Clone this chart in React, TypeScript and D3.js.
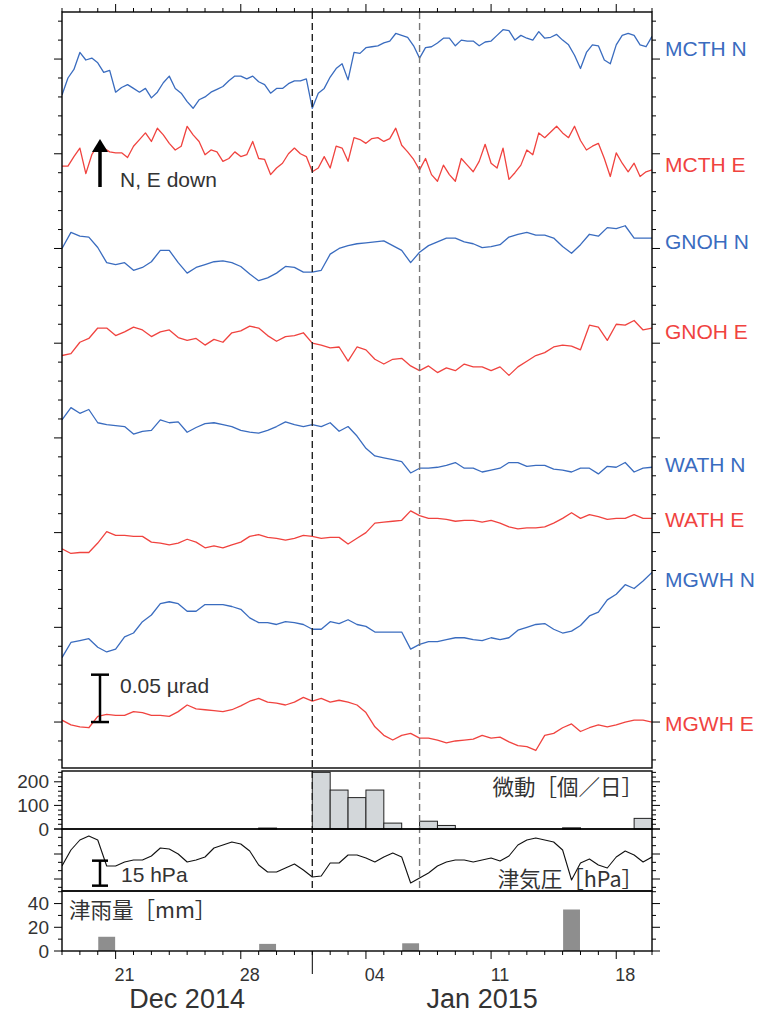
import React from "react";
import * as d3 from "d3";

const HOUR = 3600000;
const START = Date.UTC(2014, 11, 18);
const END = Date.UTC(2015, 0, 20);

// tilt traces: values in nrad relative to each trace's offset (µrad)
const traceNames = ["MCTH N", "MCTH E", "GNOH N", "GNOH E", "WATH N", "WATH E", "MGWH N", "MGWH E"];
const traceOffsets = [0.8, 0.7, 0.6, 0.5, 0.4, 0.3, 0.2, 0.1];
const traceStepHours = [8, 8, 12, 12, 12, 12, 12, 12];

const mcthN = [
  -38, -20, -11, 7, -1, 1, -4, -14, -12, -35,
  -30, -27, -31, -35, -31, -41, -35, -25, -18, -31,
  -36, -45, -52, -43, -40, -35, -32, -29, -23, -18,
  -18, -21, -18, -24, -27, -36, -31, -31, -26, -23,
  -23, -21, -52, -36, -31, -19, -10, -5, -22, 7,
  6, 12, 13, 14, 17, 19, 27, 25, 23, 14,
  1, 12, 13, 17, 22, 22, 14, 20, 19, 19,
  14, 18, 19, 25, 31, 30, 20, 25, 22, 20,
  29, 22, 23, 26, 20, 15, 4, -10, 7, 15,
  14, -1, -5, 15, 25, 27, 25, 15, 13, 24,
];
const mcthE = [
  -13, -13, -3, 6, -21, -1, 9, 6, 2, 1,
  1, -4, 8, 15, 22, 13, 27, 20, 11, 4,
  8, 29, 20, 13, -1, 4, 2, -8, -5, 2,
  -3, -1, 13, -5, -6, -22, -15, -10, 0, 6,
  0, -3, -19, -15, -3, -15, 8, 6, -8, 17,
  15, 11, 16, 17, 13, 16, 27, 9, 2, -6,
  -17, -5, -22, -29, -12, -22, -29, -5, -12, -19,
  -8, 10, -10, -15, 6, -27, -20, -12, 4, -1,
  22, 17, 23, 29, 22, 17, 29, 14, 4, 8,
  11, -5, -24, 1, -10, -19, -10, -24, -19, -17,
];
const gnohN = [
  0, 17, 13, 12, 1, -15, -17, -15, -23, -20,
  -14, -2, -2, -15, -26, -20, -17, -14, -13, -15,
  -19, -27, -34, -31, -26, -19, -20, -25, -25, -23,
  -6, 0, 3, 5, 6, 7, 8, 3, -2, -15,
  -4, 3, 7, 11, 11, 7, 5, 1, 2, 4,
  12, 15, 17, 14, 14, 11, 2, -5, 4, 15,
  13, 22, 21, 24, 11, 11, 11,
];
const gnohE = [
  -13, -11, 1, 5, 16, 16, 8, 12, 17, 14,
  7, 12, 14, 6, 3, 5, -2, 4, 1, 11,
  13, 18, 16, 8, 2, 7, 8, 11, 0, -2,
  -5, -4, -19, -4, -7, -17, -22, -17, -16, -24,
  -29, -24, -31, -26, -29, -22, -25, -25, -29, -25,
  -34, -25, -19, -13, -10, -4, -2, -3, -7, 19,
  17, 3, 20, 19, 24, 14, 16,
];
const wathN = [
  19, 32, 26, 30, 16, 14, 13, 12, 4, 7,
  8, 19, 16, 17, 6, 11, 15, 16, 14, 12,
  8, 6, 5, 8, 12, 17, 14, 12, 14, 12,
  16, 7, 12, 2, -11, -19, -21, -23, -25, -37,
  -32, -32, -31, -29, -26, -32, -32, -36, -34, -32,
  -26, -26, -30, -29, -29, -33, -34, -36, -32, -32,
  -38, -30, -31, -26, -36, -32, -31,
];
const wathE = [
  -17, -22, -21, -21, -11, 1, -3, -3, -4, -4,
  -10, -11, -13, -11, -7, -10, -16, -14, -16, -13,
  -10, -4, -2, -5, -6, -8, -6, -3, -4, -6,
  -5, -5, -12, -6, 0, 10, 11, 12, 13, 23,
  18, 15, 15, 14, 12, 13, 13, 11, 13, 10,
  6, 4, 5, 5, 6, 10, 15, 21, 15, 19,
  17, 14, 15, 15, 19, 15, 15,
];
const mgwhN = [
  -32, -16, -14, -12, -21, -26, -23, -10, -6, 6,
  13, 25, 27, 25, 17, 17, 24, 24, 24, 22,
  19, 10, 5, 5, 3, 6, 5, 3, -2, -2,
  6, 4, 8, 3, 1, -5, -5, -5, -5, -23,
  -18, -15, -15, -13, -11, -11, -13, -14, -11, -13,
  -11, -3, 0, 3, 4, -2, -6, -4, 2, 12,
  16, 29, 35, 45, 41, 49, 58,
];
const mgwhE = [
  2, -3, -5, -6, 6, 8, 7, 7, 11, 10,
  7, 7, 6, 11, 18, 14, 13, 12, 11, 13,
  17, 22, 25, 21, 20, 18, 21, 26, 22, 25,
  21, 23, 21, 18, 10, -5, -14, -19, -14, -12,
  -17, -17, -19, -22, -20, -19, -18, -14, -17, -16,
  -21, -25, -26, -30, -14, -12, -6, -2, -10, -6,
  -3, -5, -3, 0, 2, 2, 0,
];
const traces = [mcthN, mcthE, gnohN, gnohE, wathN, wathE, mgwhN, mgwhE];

// tremor counts per day
const tremorDates = ["2014-12-29", "2015-01-01", "2015-01-02", "2015-01-03", "2015-01-04", "2015-01-05", "2015-01-07", "2015-01-08", "2015-01-15", "2015-01-19"];
const tremorCounts = [4, 240, 165, 133, 165, 25, 33, 15, 5, 45];

// Tsu air pressure (hPa), every 12 h from Dec 18
const pressureStepHours = 12;
const pressure = [
  1007.8, 1017.4, 1023.4, 1025.8, 1023.4, 1007.8, 1007.8, 1010.2, 1011.4, 1011.4,
  1013.8, 1018.6, 1018.0, 1015.0, 1010.2, 1011.4, 1013.2, 1018.6, 1020.4, 1022.2,
  1021.0, 1016.8, 1008.4, 1004.2, 1004.2, 1006.6, 1009.0, 1005.4, 1001.2, 1001.8,
  1009.6, 1009.6, 1014.4, 1014.4, 1012.6, 1010.2, 1013.2, 1015.6, 1013.2, 997.6,
  1000.6, 1003.6, 1007.8, 1010.2, 1011.4, 1011.4, 1010.2, 1011.4, 1012.6, 1010.8,
  1013.8, 1020.4, 1023.4, 1024.6, 1023.4, 1022.2, 1017.4, 999.4, 1009.6, 1012.0,
  1008.4, 1006.6, 1013.2, 1016.8, 1014.4, 1010.2, 1013.2,
];

// Tsu rainfall (mm/day)
const rainDates = ["2014-12-20", "2014-12-29", "2015-01-06", "2015-01-15"];
const rainAmounts = [12, 6, 6.5, 35];

// event markers
const eventDates = ["2015-01-01", "2015-01-07"];

// axis labels
const dayLabelDates = ["2014-12-21", "2014-12-28", "2015-01-04", "2015-01-11", "2015-01-18"];
const dayLabels = ["21", "28", "04", "11", "18"];
const monthLabels = ["Dec 2014", "Jan 2015"];
const monthStarts = ["2014-12-01", "2015-01-01"];
const tremorTicks = [0, 100, 200];
const rainTicks = [0, 20, 40];

const parse = (s: string) => new Date(s + "T00:00:00Z");

const SANS = "'Liberation Sans', Arial, Helvetica, sans-serif";
const CJK = "'Noto Sans CJK JP', 'Noto Sans CJK SC', sans-serif";
const TXT = "#333";
const BLUE = "#3a6cbf";
const RED = "#f0433f";

export default function App() {
  const L = 62, R = 652;
  const mainTop = 12, mainBot = 768;
  const tremTop = 770, tremBot = 829;
  const presTop = 829, presBot = 891;
  const rainTop = 891, rainBot = 951;

  const x = d3.scaleUtc().domain([new Date(START), new Date(END)]).range([L, R]);
  const yMain = d3.scaleLinear().domain([0.05, 0.85]).range([769.4, 11.7]);
  const yTrem = d3.scaleLinear().domain([0, 250]).range([tremBot, tremTop]);
  const yPres = d3.scaleLinear().domain([992.8, 1030]).range([presBot, presTop]);
  const yRain = d3.scaleLinear().domain([0, 50.6]).range([rainBot, rainTop]);

  const line = d3.line<[Date, number]>().x((d) => x(d[0])).y((d) => yMain(d[1]));
  const tracePaths = traces.map((vals, i) =>
    line(vals.map((v, k) => [new Date(START + k * traceStepHours[i] * HOUR), traceOffsets[i] + v / 1000]))
  );
  const presLine = d3.line<[Date, number]>().x((d) => x(d[0])).y((d) => yPres(d[1]));
  const presPath = presLine(pressure.map((p, k) => [new Date(START + k * pressureStepHours * HOUR), p]));

  const labelY = [48, 164, 241, 331, 464, 519, 579, 723];

  const days = d3.utcDay.range(new Date(START), new Date(END + 1));
  const mainTicks = d3.range(3, 43).map((i) => ({ v: i * 0.02, major: i % 5 === 0 }));
  const tremMinor = d3.range(0, 250, 20);
  const rainMinor = d3.range(0, 51, 10);
  const presMinor = d3.range(995, 1031, 5);

  const dayW = x(new Date(START + 24 * HOUR)) - x(new Date(START));

  const hTick = (y: number, len: number, key: string) => (
    <g key={key}>
      <line x1={L - len} x2={L} y1={y} y2={y} />
      <line x1={R} x2={R + len} y1={y} y2={y} />
    </g>
  );

  const jan = parse(monthStarts[1]);
  const monthCenters = [(L + x(jan)) / 2, (x(jan) + R) / 2];

  return (
    <svg width={764} height={1016} style={{ position: "absolute", left: 0, top: 0, background: "#fff" }} fontFamily={SANS}>
      <defs>
        <clipPath id="mainClip"><rect x={L} y={mainTop} width={R - L} height={mainBot - mainTop} /></clipPath>
        <clipPath id="presClip"><rect x={L} y={presTop} width={R - L} height={presBot - presTop} /></clipPath>
      </defs>
      <rect width={764} height={1016} fill="#fff" />

      {/* traces */}
      <g clipPath="url(#mainClip)" fill="none" strokeWidth={1.3} strokeLinejoin="round">
        {tracePaths.map((p, i) => (
          <path key={i} d={p || ""} stroke={i % 2 === 0 ? BLUE : RED} />
        ))}
      </g>

      {/* tremor bars */}
      <g fill="#d3d7da" stroke="#222" strokeWidth={1}>
        {tremorDates.map((d, i) => {
          const x0 = x(parse(d));
          return <rect key={i} x={x0} y={yTrem(tremorCounts[i])} width={dayW} height={tremBot - yTrem(tremorCounts[i])} />;
        })}
      </g>

      {/* pressure */}
      <path d={presPath || ""} fill="none" stroke="#111" strokeWidth={1.1} strokeLinejoin="round" clipPath="url(#presClip)" />

      {/* rain bars */}
      <g fill="#8e8e8e">
        {rainDates.map((d, i) => {
          const x0 = x(parse(d));
          return <rect key={i} x={x0 + 0.5} y={yRain(rainAmounts[i])} width={dayW - 1} height={rainBot - yRain(rainAmounts[i])} />;
        })}
      </g>

      {/* event dashed lines */}
      {eventDates.map((d, i) => (
        <line key={i} x1={x(parse(d))} x2={x(parse(d))} y1={mainTop} y2={presBot}
          stroke={i === 0 ? "#222" : "#777"} strokeWidth={1.4} strokeDasharray="7,4" />
      ))}

      {/* frames */}
      <g fill="none" stroke="#000" strokeWidth={1.4}>
        <rect x={L} y={mainTop} width={R - L} height={mainBot - mainTop} />
        <rect x={L} y={tremTop + 1} width={R - L} height={tremBot - tremTop - 1} />
        <rect x={L} y={presTop} width={R - L} height={presBot - presTop} />
        <rect x={L} y={rainTop} width={R - L} height={rainBot - rainTop} />
      </g>

      {/* ticks */}
      <g stroke="#000" strokeWidth={1}>
        {days.map((d, i) => {
          const xx = x(d);
          const major = d.getUTCDay() === 0;
          const len = major ? 8 : 4;
          return (
            <g key={i}>
              <line x1={xx} x2={xx} y1={mainTop - len} y2={mainTop} />
              <line x1={xx} x2={xx} y1={rainBot} y2={rainBot + len} />
            </g>
          );
        })}
        <line x1={x(jan)} x2={x(jan)} y1={rainBot} y2={rainBot + 23} />
        {mainTicks.map((t, i) => hTick(yMain(t.v), t.major ? 8 : 4, "m" + i))}
        {tremMinor.map((v, i) => hTick(yTrem(v), v % 100 === 0 ? 8 : 4, "t" + i))}
        {presMinor.map((v, i) => hTick(yPres(v), v % 15 === 10 ? 8 : 4, "p" + i))}
        {rainMinor.map((v, i) => hTick(yRain(v), v % 20 === 0 ? 8 : 4, "r" + i))}
      </g>

      {/* y tick labels */}
      <g fontSize={19} fill={TXT} textAnchor="end" dominantBaseline="central">
        {tremorTicks.map((v) => <text key={"tl" + v} x={49} y={yTrem(v)}>{v}</text>)}
        {rainTicks.map((v) => <text key={"rl" + v} x={49} y={yRain(v)}>{v}</text>)}
      </g>

      {/* x labels */}
      <g fontSize={18} fill={TXT} textAnchor="middle">
        {dayLabelDates.map((d, i) => (
          <text key={i} x={x(new Date(parse(d).getTime() + 12 * HOUR))} y={981}>{dayLabels[i]}</text>
        ))}
      </g>
      <g fontSize={27} fill={TXT} textAnchor="middle">
        {monthLabels.map((m, i) => <text key={i} x={monthCenters[i]} y={1008}>{m}</text>)}
      </g>

      {/* station labels */}
      <g fontSize={21}>
        {traceNames.map((n, i) => (
          <text key={n} x={665} y={labelY[i]} dominantBaseline="central" fill={i % 2 === 0 ? BLUE : RED}>{n}</text>
        ))}
      </g>

      {/* annotations */}
      <line x1={100} x2={100} y1={187} y2={150} stroke="#000" strokeWidth={3.5} />
      <path d="M92,152 L100,139 L108,152 Z" fill="#000" />
      <text x={120} y={187} fontSize={21} fill={TXT}>N, E down</text>

      <g stroke="#000" strokeWidth={2.5}>
        <line x1={100} x2={100} y1={yMain(0.1)} y2={yMain(0.15)} />
        <line x1={91} x2={109} y1={yMain(0.1)} y2={yMain(0.1)} />
        <line x1={91} x2={109} y1={yMain(0.15)} y2={yMain(0.15)} />
      </g>
      <text x={120} y={693} fontSize={21} fill={TXT}>0.05 µrad</text>

      <g stroke="#000" strokeWidth={2.5}>
        <line x1={100} x2={100} y1={yPres(996)} y2={yPres(1011)} />
        <line x1={92} x2={108} y1={yPres(996)} y2={yPres(996)} />
        <line x1={92} x2={108} y1={yPres(1011)} y2={yPres(1011)} />
      </g>
      <text x={121} y={882} fontSize={21} fill={TXT}>15 hPa</text>

      <g fontFamily={CJK} fontSize={21.5} fill={TXT}>
        <text x={643} y={795} textAnchor="end">微動［個／日］</text>
        <text x={643} y={887} textAnchor="end">津気圧［hPa］</text>
        <text x={69} y={918}>津雨量［mm］</text>
      </g>
    </svg>
  );
}
